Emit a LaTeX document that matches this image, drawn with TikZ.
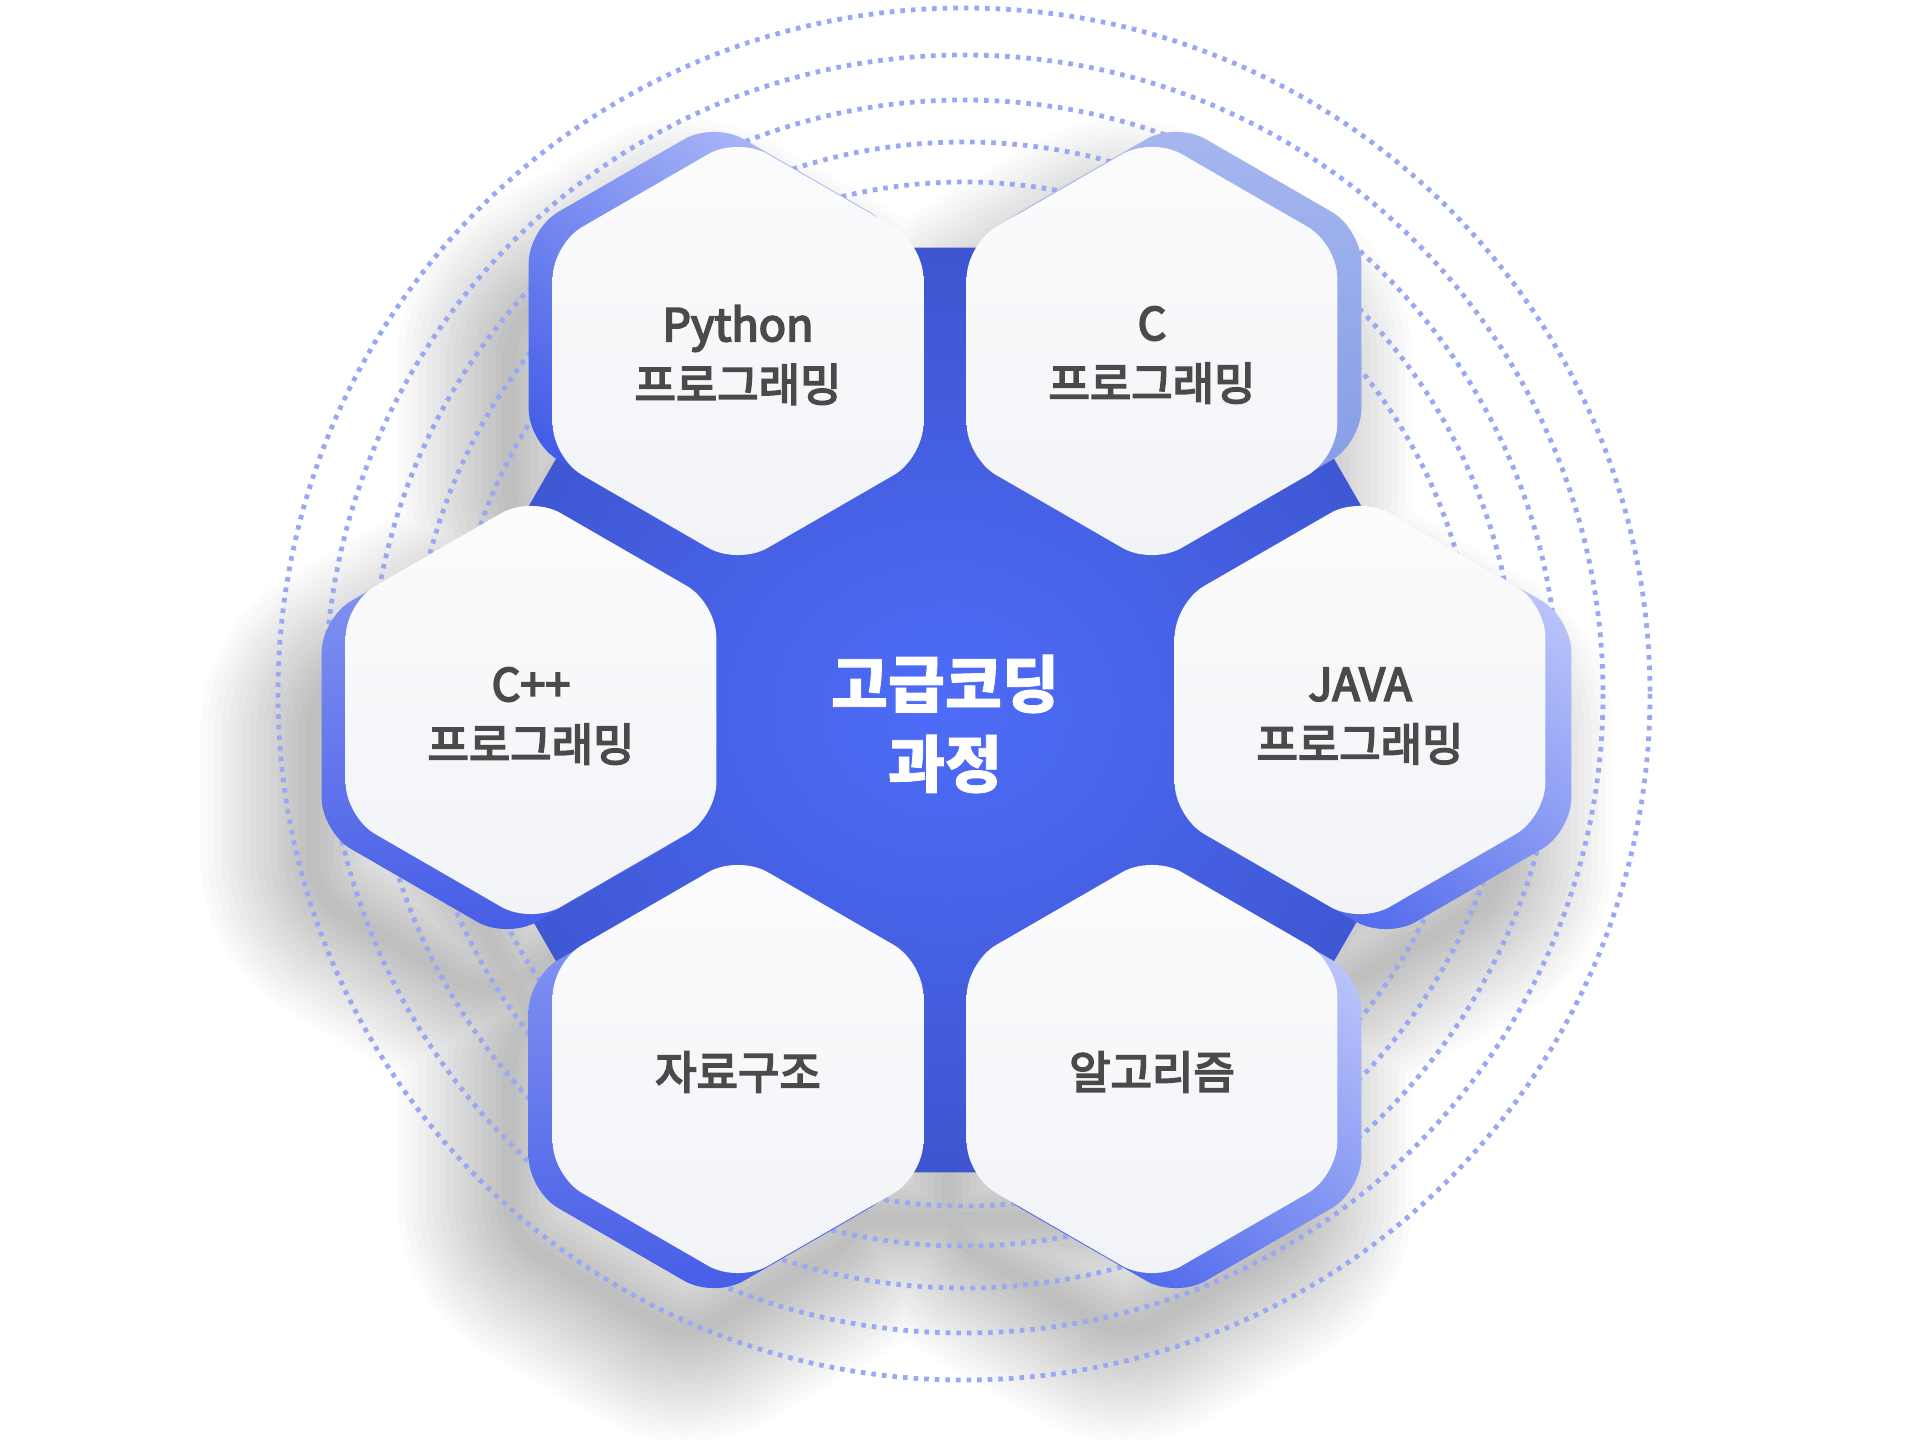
\documentclass[tikz,border=0pt]{standalone}
\usepackage{fontspec}
\setmainfont{Noto Sans CJK KR}
\newfontfamily\krlab{Noto Sans CJK KR}[FakeBold=4]
\newfontfamily\krheavy{Noto Sans CJK KR}[BoldFeatures={FakeBold=1.2}]
\definecolor{txt}{HTML}{4A4A4A}
\definecolor{dotc}{HTML}{9AA8F4}
\definecolor{hexTop}{HTML}{FCFCFD}
\definecolor{hexBot}{HTML}{F1F3F7}
\definecolor{coreIn}{HTML}{4E6CF8}
\definecolor{coreOut}{HTML}{3D55CF}
\definecolor{pyT}{HTML}{AFBBF8}
\definecolor{pyB}{HTML}{405BE8}
\definecolor{cT}{HTML}{A6B7F0}
\definecolor{cB}{HTML}{8098E4}
\definecolor{lT}{HTML}{8C9DF4}
\definecolor{lB}{HTML}{455CE6}
\definecolor{rT}{HTML}{BAC5FA}
\definecolor{rB}{HTML}{4A63EB}
% pointy-top hexagon: centre x, centre y, circumradius (px)
\newcommand{\hexpath}[3]{(#1,{#2-#3}) -- ({#1+0.866*#3},{#2-0.5*#3}) -- ({#1+0.866*#3},{#2+0.5*#3}) -- (#1,{#2+#3}) -- ({#1-0.866*#3},{#2+0.5*#3}) -- ({#1-0.866*#3},{#2-0.5*#3}) -- cycle}
% flat-top hexagon
\newcommand{\fhexpath}[3]{({#1-#3},#2) -- ({#1-0.5*#3},{#2-0.866*#3}) -- ({#1+0.5*#3},{#2-0.866*#3}) -- ({#1+#3},#2) -- ({#1+0.5*#3},{#2+0.866*#3}) -- ({#1-0.5*#3},{#2+0.866*#3}) -- cycle}
\tikzset{
  whitehex/.style={top color=hexTop, bottom color=hexBot, rounded corners=17pt},
  backhex/.style={rounded corners=17pt},
  lab/.style={text=txt, align=center, inner sep=0pt, font=\krlab\fontsize{22.5pt}{30pt}\selectfont},
  corelab/.style={text=white, align=center, inner sep=0pt, font=\krheavy\bfseries\fontsize{31pt}{40pt}\selectfont},
  ring/.style={dotc, line width=2.4pt, dash pattern=on 2.3pt off 3pt},
}
\begin{document}
\begin{tikzpicture}[x=0.5pt, y=-0.5pt]
\fill[white] (0,0) rectangle (1920,1444);
\useasboundingbox (0,0) rectangle (1920,1444);
% soft shadow of the whole cluster
\begin{scope}[shift={(-40,70)}, scale around={0.95:(945,710)}]
\foreach \k in {1,...,16}{
  \draw[black, draw opacity=0.014, line width={\k*7pt}, line join=round, rounded corners=17pt]
    \hexpath{714}{336}{214} \hexpath{1176}{336}{214}
    \hexpath{507}{725}{214} \hexpath{1386}{725}{214}
    \hexpath{714}{1084}{214} \hexpath{1176}{1084}{214}
    \fhexpath{945}{710}{534};
}
\end{scope}
% dotted rings
\coordinate (ringc) at (964,694);
\foreach \r in {512,552,594,639,686}{
  \draw[ring] (ringc) circle[radius=\r];
}
% central hexagon
\shade[inner color=coreIn, outer color=coreOut, rounded corners=17pt] \fhexpath{945}{710}{534};
% coloured back hexagons
\shade[backhex, top color=pyT, bottom color=pyB, shading angle=-40] \hexpath{714}{336}{214};
\shade[backhex, top color=cT, bottom color=cB] \hexpath{1176}{336}{214};
\shade[backhex, top color=lT, bottom color=lB] \hexpath{507}{725}{214};
\shade[backhex, top color=rT, bottom color=rB, shading angle=-40] \hexpath{1386}{725}{214};
\shade[backhex, top color=lT, bottom color=lB] \hexpath{714}{1084}{214};
\shade[backhex, top color=rT, bottom color=rB, shading angle=-40] \hexpath{1176}{1084}{214};
% white hexagons
\shade[whitehex] \hexpath{738}{351}{214};
\shade[whitehex] \hexpath{1152}{351}{214};
\shade[whitehex] \hexpath{531}{710}{214};
\shade[whitehex] \hexpath{1360}{710}{214};
\shade[whitehex] \hexpath{738}{1069}{214};
\shade[whitehex] \hexpath{1152}{1069}{214};
% labels
\node[corelab] (core) at (945,724) {고급코딩\\과정};
\node[lab] (python) at (738,355) {Python\\프로그래밍};
\node[lab] (clang) at (1152,355) {C\\프로그래밍};
\node[lab] (cpp) at (531,716) {C++\\프로그래밍};
\node[lab] (java) at (1360,716) {JAVA\\프로그래밍};
\node[lab] (ds) at (738,1072) {자료구조};
\node[lab] (algo) at (1152,1072) {알고리즘};
\end{tikzpicture}
\end{document}
